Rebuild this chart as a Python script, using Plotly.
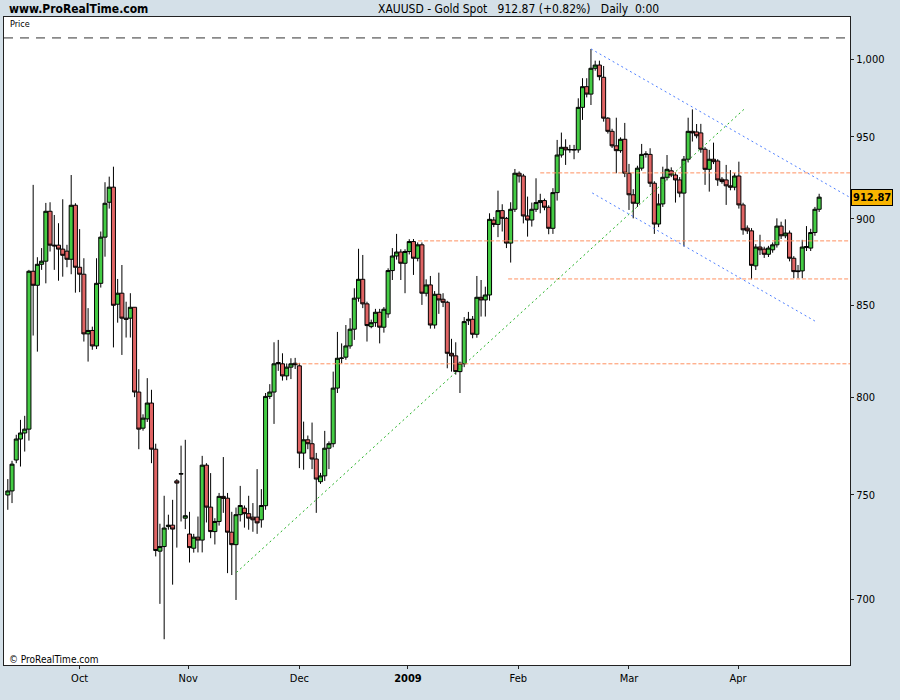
import math
import plotly.graph_objects as go

# ---- data (daily bars incl. Sunday sessions) ----
opens = [750.0, 752.0, 767.5, 778.2, 781.3, 783.3, 869.3, 861.3, 873.3, 875.1,
         904.4, 884.4, 884.4, 882.1, 880.9, 876.2, 908.0, 871.6, 867.6, 834.1,
         836.0, 827.5, 862.4, 889.1, 909.8, 918.9, 850.6, 856.8, 842.8, 842.8,
         848.9, 802.7, 783.8, 788.6, 796.9, 773.0, 722.7, 724.9, 734.5, 735.2,
         757.0, 760.4, 738.6, 730.9, 724.1, 729.4, 728.0, 764.9, 744.0, 732.1,
         737.0, 749.3, 748.4, 731.8, 725.8, 740.3, 743.5, 740.8, 739.1, 739.1,
         737.8, 744.7, 800.4, 802.7, 818.5, 817.8, 811.3, 816.0, 818.1, 816.7,
         771.0, 777.8, 775.8, 768.0, 756.6, 759.5, 773.5, 775.8, 804.8, 820.8,
         821.4, 827.5, 836.7, 854.0, 864.7, 850.8, 838.1, 840.3, 846.1, 837.8,
         845.2, 869.7, 878.1, 880.4, 873.9, 880.7, 886.5, 876.8, 884.6, 856.8,
         861.5, 839.0, 856.2, 853.4, 851.7, 823.5, 822.1, 813.6, 817.8, 841.4,
         842.2, 833.9, 854.5, 853.0, 855.8, 899.2, 896.6, 904.8, 900.2, 885.6,
         905.6, 927.4, 925.7, 901.6, 899.2, 905.6, 909.6, 910.8, 906.8, 894.3,
         915.6, 938.6, 943.4, 941.8, 942.0, 941.8, 968.6, 981.9, 977.1, 993.9,
         996.0, 988.0, 961.7, 953.4, 944.3, 941.3, 948.4, 927.4, 914.3, 909.2,
         930.5, 939.0, 939.0, 921.3, 896.8, 908.8, 924.9, 928.9, 926.3, 923.3,
         915.3, 936.0, 953.4, 953.0, 952.4, 942.2, 929.8, 936.0, 934.9, 923.7,
         923.3, 919.7, 918.9, 925.7, 908.2, 894.4, 892.8, 872.4, 883.3, 882.1,
         879.1, 881.7, 884.6, 895.6, 889.9, 891.5, 876.8, 869.1, 869.5, 883.0,
         882.7, 891.8, 905.6]
highs = [757.9, 767.1, 780.4, 788.1, 790.2, 870.1, 920.3, 877.4, 882.7, 909.4,
         909.8, 902.2, 897.3, 911.6, 884.6, 926.3, 909.2, 893.8, 876.8, 848.4,
         838.1, 876.8, 892.4, 921.9, 925.3, 931.4, 864.9, 872.9, 852.0, 856.8,
         849.0, 814.9, 791.0, 810.1, 803.9, 775.8, 735.9, 749.6, 740.3, 747.6,
         757.9, 774.8, 777.8, 741.7, 731.0, 739.4, 769.6, 765.9, 760.9, 738.6,
         751.0, 769.0, 751.0, 741.7, 743.8, 754.5, 744.8, 749.6, 746.0, 762.9,
         752.9, 802.2, 806.9, 829.5, 830.8, 823.5, 818.0, 820.8, 821.0, 818.3,
         787.2, 780.0, 786.7, 771.1, 761.0, 782.4, 777.0, 813.6, 835.2, 828.9,
         839.0, 842.8, 859.6, 882.3, 878.7, 852.0, 842.0, 848.0, 848.0, 849.0,
         871.0, 882.7, 891.0, 882.0, 882.0, 887.9, 888.0, 886.0, 886.0, 864.7,
         866.6, 858.0, 868.5, 856.8, 852.5, 831.4, 829.5, 819.0, 843.4, 846.3,
         844.0, 866.6, 864.3, 860.5, 903.2, 901.0, 916.8, 908.6, 901.0, 909.8,
         930.0, 928.5, 927.0, 913.2, 909.6, 924.3, 914.9, 912.0, 908.0, 918.3,
         948.0, 952.6, 948.4, 944.9, 944.9, 974.4, 987.4, 987.4, 1006.6, 998.9,
         998.9, 995.4, 962.4, 955.0, 962.0, 949.6, 958.7, 933.1, 917.7, 932.0,
         945.5, 941.0, 942.8, 922.5, 914.9, 931.4, 938.6, 931.0, 928.0, 925.0,
         938.0, 962.0, 967.3, 958.0, 958.1, 943.5, 941.8, 946.3, 936.0, 925.0,
         932.5, 929.3, 927.5, 934.5, 909.5, 896.0, 894.4, 885.0, 890.5, 883.5,
         884.0, 886.0, 900.2, 898.2, 899.6, 893.0, 878.0, 872.9, 887.5, 895.6,
         894.0, 907.0, 914.9]
lows = [742.7, 746.0, 765.9, 764.2, 771.8, 777.4, 833.2, 824.4, 870.1, 862.4,
        880.7, 870.1, 863.9, 866.2, 871.6, 867.6, 857.1, 857.4, 829.9, 819.0,
        825.4, 825.8, 860.0, 877.7, 906.0, 826.7, 840.3, 822.6, 832.1, 832.1,
        800.0, 773.0, 782.5, 787.0, 765.9, 720.2, 698.0, 681.9, 733.0, 706.9,
        724.4, 737.0, 733.3, 717.3, 722.0, 722.1, 722.1, 736.5, 728.9, 725.9,
        735.0, 741.2, 712.3, 711.4, 699.8, 737.0, 734.0, 733.0, 732.0, 731.0,
        734.0, 742.7, 799.0, 786.0, 814.0, 808.8, 809.0, 809.6, 815.0, 763.4,
        762.6, 773.0, 762.9, 741.2, 755.5, 757.0, 762.9, 774.0, 802.2, 818.0,
        820.0, 826.0, 830.8, 852.0, 848.4, 829.9, 837.2, 838.0, 828.9, 834.8,
        843.0, 864.3, 876.0, 864.3, 856.8, 879.0, 867.2, 875.0, 850.2, 855.0,
        837.0, 837.0, 845.2, 849.0, 815.4, 813.6, 812.0, 802.2, 816.0, 839.0,
        831.7, 832.0, 843.7, 843.7, 852.6, 895.0, 889.1, 892.4, 882.7, 874.3,
        904.0, 921.7, 897.2, 889.4, 895.3, 904.0, 903.2, 905.0, 890.8, 891.0,
        910.8, 937.0, 932.5, 940.0, 936.0, 940.0, 960.6, 975.0, 970.1, 992.3,
        986.0, 959.5, 952.0, 943.0, 927.4, 940.0, 925.0, 905.2, 900.2, 907.0,
        929.0, 937.0, 919.0, 891.0, 895.0, 907.0, 923.0, 925.0, 909.6, 912.8,
        883.6, 934.0, 947.0, 949.0, 940.0, 920.3, 916.2, 933.0, 919.7, 921.0,
        908.2, 917.0, 917.0, 906.0, 890.5, 891.0, 864.7, 870.0, 878.7, 877.0,
        877.5, 880.0, 883.0, 888.0, 888.5, 875.0, 865.3, 865.3, 865.3, 881.0,
        881.0, 889.9, 904.0]
closes = [752.0, 765.4, 778.2, 781.3, 783.3, 869.3, 861.3, 873.3, 875.1, 904.4,
          884.4, 884.0, 882.1, 878.5, 876.2, 908.0, 871.6, 867.6, 834.1, 836.0,
          827.5, 862.4, 889.1, 909.2, 918.9, 850.0, 856.8, 842.8, 842.2, 848.9,
          802.7, 783.3, 789.0, 796.9, 773.0, 723.0, 724.9, 733.8, 735.2, 733.3,
          755.9, 760.6, 739.8, 724.4, 729.4, 728.0, 764.9, 744.0, 732.1, 737.0,
          749.3, 748.3, 731.8, 725.8, 740.3, 744.8, 740.8, 738.6, 737.8, 736.3,
          744.8, 800.4, 802.7, 817.8, 817.8, 811.3, 816.0, 817.8, 817.3, 771.0,
          777.8, 775.8, 768.0, 757.9, 759.5, 773.5, 775.8, 804.8, 820.8, 820.9,
          827.5, 836.7, 854.0, 864.7, 850.8, 838.7, 840.3, 846.1, 837.8, 847.8,
          869.7, 878.1, 880.4, 873.9, 880.7, 886.5, 876.8, 884.6, 856.8, 861.5,
          839.0, 856.2, 853.0, 851.7, 823.5, 822.1, 813.6, 818.1, 840.9, 842.2,
          833.9, 854.5, 853.0, 855.8, 899.6, 896.6, 904.8, 900.2, 885.6, 905.6,
          927.4, 925.7, 901.6, 899.2, 905.6, 909.6, 910.8, 906.8, 894.3, 915.6,
          938.6, 943.4, 941.8, 942.0, 941.8, 968.6, 981.9, 977.1, 993.9, 996.0,
          988.4, 961.7, 953.4, 944.3, 941.3, 948.4, 927.4, 914.3, 909.2, 930.5,
          939.0, 939.2, 921.3, 896.8, 908.8, 924.9, 929.8, 926.3, 923.3, 915.3,
          936.0, 953.4, 952.4, 950.6, 942.2, 929.8, 936.0, 934.5, 923.3, 922.3,
          919.7, 918.9, 925.7, 908.2, 893.4, 892.8, 872.7, 883.3, 881.7, 879.1,
          882.7, 884.6, 895.6, 889.9, 891.5, 876.8, 869.1, 869.4, 883.3, 883.6,
          891.8, 905.6, 912.87]

bar_index = list(range(len(opens)))

# month labels (bar-index positions of the month starts)
tick_pos = [17, 42.7, 69, 94.7, 120.8, 147, 172.8]
tick_text = ["Oct", "Nov", "Dec", "<b>2009</b>", "Feb", "Mar", "Apr"]

price_ticks = [700, 750, 800, 850, 900, 950, 1000]
price_tick_text = ["700", "750", "800", "850", "900", "950", "1,000"]

# drawn objects
prior_high = 1014.0
level_values = [817.8, 886.9, 864.9, 927.6]
level_starts = [68.3, 97.1, 118.4, 126.0]
level_end = 199.3
support_x = [54.1, 174.4]
support_y = [712.6, 967.8]
chan_up_x = [138.0, 199.3]
chan_up_y = [1006.7, 912.7]
chan_lo_x = [138.3, 191.0]
chan_lo_y = [915.4, 841.2]

last_price = 912.87

FONT = "Liberation Sans Narrow, Arial Narrow, DejaVu Sans Condensed, Roboto Condensed, sans-serif"
GREEN = "#44cc44"
RED = "#e06464"

fig = go.Figure()

# top dashed line
fig.add_trace(go.Scatter(x=[-0.9, 199.3], y=[prior_high, prior_high], mode="lines",
                         line=dict(color="#333333", width=1, dash="9px,7px"), hoverinfo="skip"))
# horizontal levels
for lv, st in zip(level_values, level_starts):
    fig.add_trace(go.Scatter(x=[st, level_end], y=[lv, lv], mode="lines",
                             line=dict(color="#ff9060", width=1, dash="4px,2px"), hoverinfo="skip"))
# trend lines
fig.add_trace(go.Scatter(x=support_x, y=support_y, mode="lines",
                         line=dict(color="#22b022", width=1, dash="2px,3px"), hoverinfo="skip"))
fig.add_trace(go.Scatter(x=chan_up_x, y=chan_up_y, mode="lines",
                         line=dict(color="#4f7fff", width=1, dash="2px,3px"), hoverinfo="skip"))
fig.add_trace(go.Scatter(x=chan_lo_x, y=chan_lo_y, mode="lines",
                         line=dict(color="#4f7fff", width=1, dash="2px,3px"), hoverinfo="skip"))

fig.add_trace(go.Candlestick(
    x=bar_index, open=opens, high=highs, low=lows, close=closes,
    increasing=dict(fillcolor=GREEN, line=dict(color="black", width=1)),
    decreasing=dict(fillcolor=RED, line=dict(color="black", width=1)),
    whiskerwidth=0,
))

fig.update_layout(
    width=900, height=700,
    paper_bgcolor="#d4e0e8", plot_bgcolor="white",
    margin=dict(l=4, r=50, t=17, b=35, pad=0),
    showlegend=False,
    boxgap=0.05, boxgroupgap=0,
    font=dict(family=FONT, size=11, color="black"),
    xaxis=dict(range=[-0.9, 199.3], tickvals=tick_pos, ticktext=tick_text,
               showgrid=False, zeroline=False, showline=True, mirror=True,
               linecolor="#222222", linewidth=1, ticks="outside", ticklen=3,
               tickcolor="#222222", rangeslider=dict(visible=False),
               tickfont=dict(family=FONT, size=11, color="black")),
    yaxis=dict(type="log", range=[math.log10(670.4), math.log10(1028.1)], side="right",
               tickvals=price_ticks, ticktext=price_tick_text,
               showgrid=False, zeroline=False, showline=True, mirror=True,
               linecolor="#222222", linewidth=1, ticks="outside", ticklen=3,
               tickcolor="#222222",
               tickfont=dict(family=FONT, size=11, color="black")),
)

annots = [
    dict(text="<b>www.ProRealTime.com</b>", x=0.0035, y=1.0125, xref="paper", yref="paper",
         xanchor="left", yanchor="middle", showarrow=False, font=dict(family=FONT, size=12)),
    dict(text="XAUUSD - Gold Spot\u00a0\u00a0 912.87 (+0.82%)\u00a0\u00a0 Daily\u00a0 0:00",
         x=0.4397, y=1.0125, xref="paper", yref="paper",
         xanchor="left", yanchor="middle", showarrow=False, font=dict(family=FONT, size=12)),
    dict(text="Price", x=0.005, y=0.9895, xref="paper", yref="paper",
         xanchor="left", yanchor="middle", showarrow=False, font=dict(family=FONT, size=9)),
    dict(text="© ProRealTime.com", x=0.004, y=0.009, xref="paper", yref="paper",
         xanchor="left", yanchor="middle", showarrow=False, font=dict(family=FONT, size=10)),
    dict(text="<b>912.87</b>", x=1.001, y=math.log10(last_price), xref="paper", yref="y",
         xanchor="left", yanchor="middle", showarrow=False, bgcolor="#f8b400",
         bordercolor="black", borderwidth=1, borderpad=1, font=dict(family=FONT, size=11)),
]
fig.update_layout(annotations=annots)

fig.write_html("out.html", config={"displayModeBar": False},
               post_script="document.body.style.margin='0px';")
